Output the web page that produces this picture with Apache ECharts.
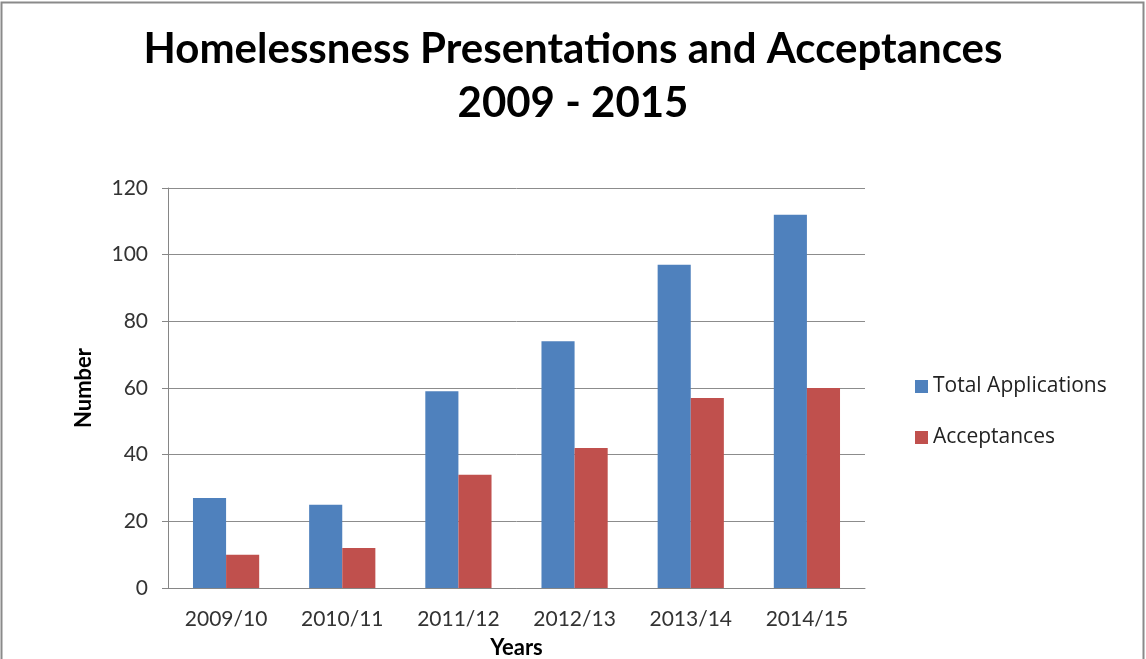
<!DOCTYPE html>
<html><head><meta charset="utf-8">
<script src="https://cdn.jsdelivr.net/npm/echarts@6/dist/echarts.min.js"></script>
<style>html,body{margin:0;padding:0;background:#fff}#c{width:1146px;height:659px}</style>
</head><body><div id="c"></div>
<script>
var categories = ['2009/10','2010/11','2011/12','2012/13','2013/14','2014/15'];
var totalApplications = [27, 25, 59, 74, 97, 112];
var acceptances = [10, 12, 34, 42, 57, 60];
var yTicks = [0, 20, 40, 60, 80, 100, 120];

var chart = echarts.init(document.getElementById('c'), null, {renderer:'canvas'});
var F = 'Lato, "Open Sans", sans-serif';
chart.setOption({
  animation:false,
  backgroundColor:'#fff',
  graphic:[{type:'rect', shape:{x:1.5,y:2.5,width:1142,height:670}, style:{fill:'none', stroke:'#8a8a8a', lineWidth:2}, silent:true}],
  title:{
    text:'Homelessness Presentations and Acceptances\n2009 - 2015',
    left:'center', top:17,
    textStyle:{fontFamily:F, fontWeight:'bold', fontSize:42, lineHeight:54, color:'#000'}
  },
  legend:{
    orient:'vertical', left:910, top:371, itemGap:30,
    itemWidth:13, itemHeight:13, icon:'rect',
    textStyle:{fontFamily:'"Open Sans", Lato, sans-serif', fontSize:21, color:'#222'},
    data:['Total Applications','Acceptances']
  },
  grid:{left:168, right:281, top:188, bottom:71, containLabel:false, outerBoundsMode:'none'},
  xAxis:{
    type:'category', data:categories,
    axisLine:{lineStyle:{color:'#868686'}},
    axisTick:{show:false},
    axisLabel:{fontFamily:F, fontSize:21, color:'#333', margin:21},
    name:'Years', nameLocation:'middle', nameGap:49,
    nameTextStyle:{fontFamily:F, fontWeight:'bold', fontSize:22, color:'#000'}
  },
  yAxis:{
    type:'value', min:0, max:120, interval:20,
    axisLine:{show:true, lineStyle:{color:'#868686'}},
    axisTick:{show:true, length:6, lineStyle:{color:'#868686'}},
    splitLine:{lineStyle:{color:'#8c8c8c'}},
    axisLabel:{fontFamily:F, fontSize:21, color:'#333', margin:20,
      formatter:function(v){return yTicks.indexOf(v)>=0?String(v):'';}},
    name:'Number', nameLocation:'middle', nameGap:73, nameRotate:90,
    nameTextStyle:{fontFamily:F, fontWeight:'bold', fontSize:22, color:'#000'}
  },
  series:[
    {name:'Total Applications', type:'bar', data:totalApplications, barGap:'0%', barCategoryGap:'43%', itemStyle:{color:'#4F81BD'}},
    {name:'Acceptances', type:'bar', data:acceptances, barGap:'0%', barCategoryGap:'43%', itemStyle:{color:'#C0504D'}}
  ]
});
</script></body></html>
